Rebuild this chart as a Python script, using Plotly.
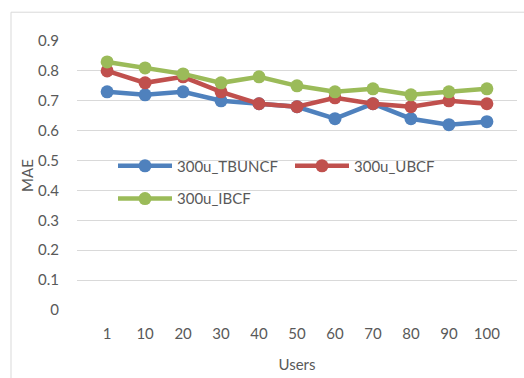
import plotly.graph_objects as go

users = ["1", "10", "20", "30", "40", "50", "60", "70", "80", "90", "100"]
tbuncf = [0.73, 0.72, 0.73, 0.70, 0.69, 0.68, 0.64, 0.69, 0.64, 0.62, 0.63]
ubcf = [0.80, 0.76, 0.78, 0.73, 0.69, 0.68, 0.71, 0.69, 0.68, 0.70, 0.69]
ibcf = [0.83, 0.81, 0.79, 0.76, 0.78, 0.75, 0.73, 0.74, 0.72, 0.73, 0.74]
y_ticks = [0, 0.1, 0.2, 0.3, 0.4, 0.5, 0.6, 0.7, 0.8, 0.9]
y_labels = ["0", "0.1", "0.2", "0.3", "0.4", "0.5", "0.6", "0.7", "0.8", "0.9"]

FONT = "Lato"
TXT = "#595959"

fig = go.Figure()
series = [
    ("300u_TBUNCF", tbuncf, "#4F81BD", "legend"),
    ("300u_UBCF", ubcf, "#C0504D", "legend"),
    ("300u_IBCF", ibcf, "#9BBB59", "legend2"),
]
for name, vals, col, lg in series:
    fig.add_trace(go.Scatter(
        x=users, y=vals, name=name, mode="lines+markers",
        line=dict(color=col, width=4.5),
        marker=dict(color=col, size=13),
        legend=lg,
    ))

L, R, T, B = 77, 7, 41, 66
W, H = 524, 378
pw, ph = W - L - R, H - T - B

def px_x(p):
    return (p - L) / pw

def px_y(p):
    return (H - B - p) / ph

fig.update_layout(
    width=W, height=H,
    margin=dict(l=L, r=R, t=T, b=B),
    paper_bgcolor="white", plot_bgcolor="white",
    font=dict(family=FONT, size=15, color=TXT),
    xaxis=dict(
        type="category", showgrid=False, zeroline=False, showline=False,
        ticks="outside", ticklen=10, tickcolor="rgba(0,0,0,0)",
        title=dict(text="Users", font=dict(size=15, color=TXT), standoff=18),
    ),
    yaxis=dict(
        range=[0, 0.9], tickvals=y_ticks, ticktext=y_labels,
        showgrid=True, gridcolor="#D9D9D9", gridwidth=1, zeroline=False,
        showline=False, ticks="outside", ticklen=14, tickcolor="rgba(0,0,0,0)",
        title=dict(text="MAE", font=dict(size=15, color=TXT), standoff=0),
    ),
    legend=dict(
        orientation="h", x=px_x(113), y=px_y(167), xanchor="left", yanchor="middle",
        bgcolor="rgba(0,0,0,0)", font=dict(size=15, color=TXT),
        itemwidth=54, entrywidth=108, entrywidthmode="pixels",
    ),
    legend2=dict(
        orientation="h", x=px_x(113), y=px_y(200), xanchor="left", yanchor="middle",
        bgcolor="rgba(0,0,0,0)", font=dict(size=15, color=TXT),
        itemwidth=54,
    ),
    shapes=[dict(
        type="rect", xref="paper", yref="paper",
        x0=px_x(11), x1=px_x(540), y0=px_y(12), y1=px_y(400),
        line=dict(color="#D9D9D9", width=1), layer="below",
    )],
)

fig.write_html("out.html")
